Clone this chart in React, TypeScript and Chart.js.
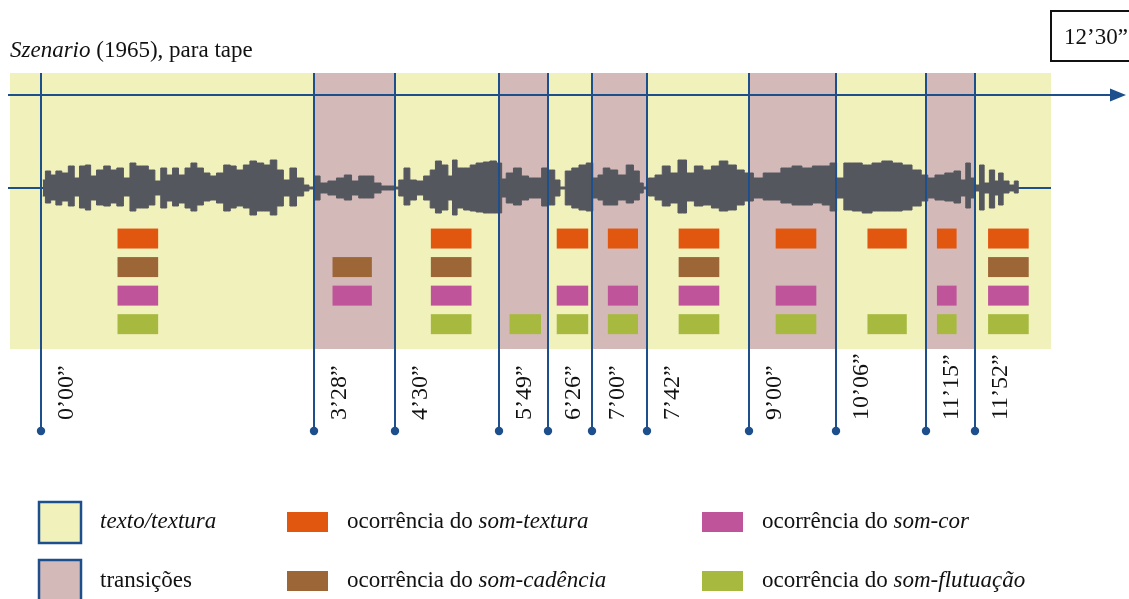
import React, { useEffect, useRef } from 'react';
import { Chart, registerables } from 'chart.js';

Chart.register(...registerables);

// ---------- data ----------
const markerSeconds = [0, 208, 270, 349, 386, 420, 462, 540, 606, 675, 712];
const markerLabels = ['0’00”', '3’28”', '4’30”', '5’49”', '6’26”', '7’00”', '7’42”', '9’00”', '10’06”', '11’15”', '11’52”'];
const totalLabel = '12’30”';
const transitions = [[208, 270], [349, 386], [420, 462], [540, 606], [675, 712]];

const waveTime = [1, 5, 9, 13, 18, 23, 27, 31, 36, 39, 45, 50, 55, 60, 65, 70, 74, 79, 84, 89, 93, 98, 102, 107, 112, 116, 121, 126, 131, 136, 142, 146, 151, 157, 161, 167, 172, 177, 182, 187, 192, 197, 203, 205, 210, 215, 222, 228, 234, 239, 245, 251, 256, 262, 267, 271, 274, 279, 283, 289, 294, 299, 302, 308, 312, 315, 319, 325, 329, 334, 340, 344, 350, 352, 357, 363, 369, 374, 379, 384, 389, 394, 397, 402, 407, 413, 418, 423, 426, 431, 436, 443, 449, 454, 458, 460, 466, 470, 477, 482, 489, 495, 501, 508, 514, 520, 527, 533, 539, 547, 554, 559, 569, 576, 584, 592, 599, 604, 609, 615, 622, 630, 637, 645, 653, 660, 668, 674, 678, 685, 693, 699, 703, 707, 710, 714, 717, 721, 725, 729, 731, 736, 740, 744, 746];
const waveUpper = [8, 17, 13, 17, 15, 22, 10, 22, 23, 12, 18, 22, 18, 20, 10, 25, 22, 22, 18, 7, 20, 13, 20, 13, 20, 25, 20, 15, 12, 15, 23, 22, 18, 23, 27, 25, 23, 28, 18, 8, 20, 10, 3, 1, 12, 5, 7, 10, 13, 7, 12, 12, 5, 2, 2, 1, 8, 20, 8, 7, 12, 18, 27, 23, 12, 28, 20, 20, 23, 25, 26, 27, 25, 9, 15, 20, 12, 10, 10, 20, 18, 8, 1, 17, 20, 23, 25, 10, 13, 20, 18, 13, 23, 17, 5, 1, 10, 13, 22, 15, 28, 15, 22, 18, 22, 27, 23, 18, 15, 10, 15, 15, 20, 22, 20, 22, 22, 25, 10, 25, 25, 23, 25, 27, 25, 23, 18, 13, 10, 13, 15, 17, 8, 25, 10, 3, 23, 5, 18, 7, 15, 7, 3, 7, 0];
const waveLower = [8, 15, 12, 17, 13, 18, 8, 20, 22, 12, 17, 18, 15, 18, 8, 23, 20, 20, 17, 7, 20, 13, 18, 15, 20, 23, 17, 13, 12, 15, 23, 20, 18, 20, 27, 23, 23, 27, 18, 8, 18, 8, 3, 1, 12, 5, 7, 10, 12, 7, 10, 10, 5, 2, 2, 1, 8, 17, 12, 7, 12, 20, 25, 22, 12, 27, 20, 22, 23, 24, 25, 25, 25, 9, 15, 17, 12, 10, 10, 18, 17, 8, 1, 17, 20, 22, 23, 10, 12, 17, 17, 12, 15, 12, 5, 1, 8, 12, 18, 15, 25, 13, 18, 17, 20, 23, 22, 17, 13, 10, 12, 12, 15, 17, 17, 15, 17, 23, 10, 22, 23, 25, 23, 23, 23, 22, 18, 13, 10, 12, 13, 15, 8, 20, 10, 3, 22, 5, 20, 7, 17, 5, 3, 5, 0];

const somTextura = [[58, 89], [297, 328], [393, 417], [432, 455], [486, 517], [560, 591], [630, 660], [683, 698], [722, 753]];
const somCadencia = [[58, 89], [222, 252], [297, 328], [486, 517], [722, 753]];
const somCor = [[58, 89], [222, 252], [297, 328], [393, 417], [432, 455], [486, 517], [560, 591], [683, 698], [722, 753]];
const somFlutuacao = [[58, 89], [297, 328], [357, 381], [393, 417], [432, 455], [486, 517], [560, 591], [630, 660], [683, 698], [722, 753]];

// ---------- styles ----------
const BLUE = '#1c4f8b';
const YELLOW = '#f1f1bc';
const PINK = '#d4b9b9';
const WAVE = '#55575f';
const FONT = '"Liberation Serif", "Times New Roman", serif';
const TXT = 23;
const rows = [
  { name: 'som-textura', blocks: somTextura, color: '#e2570f' },
  { name: 'som-cadência', blocks: somCadencia, color: '#9d6636' },
  { name: 'som-cor', blocks: somCor, color: '#c0549a' },
  { name: 'som-flutuação', blocks: somFlutuacao, color: '#a7ba3f' },
];

function drawMixed(ctx: CanvasRenderingContext2D, parts: [string, boolean][], x: number, y: number, size: number) {
  let cx = x;
  for (const [txt, italic] of parts) {
    ctx.font = `${italic ? 'italic ' : ''}${size}px ${FONT}`;
    ctx.fillText(txt, cx, y);
    cx += ctx.measureText(txt).width;
  }
}

const diagramPlugin = {
  id: 'diagram',
  beforeDatasetsDraw(chart: any) {
    const { ctx, chartArea: a, scales } = chart;
    const xs = scales.x;
    ctx.save();
    ctx.fillStyle = YELLOW;
    ctx.fillRect(a.left, a.top, a.right - a.left, a.bottom - a.top);
    ctx.fillStyle = PINK;
    for (const [s, e] of transitions) {
      const x0 = xs.getPixelForValue(s);
      const x1 = xs.getPixelForValue(e);
      ctx.fillRect(x0, a.top, x1 - x0, a.bottom - a.top);
    }
    ctx.strokeStyle = BLUE;
    ctx.lineWidth = 2;
    const yc = scales.y.getPixelForValue(0);
    ctx.beginPath();
    ctx.moveTo(8, yc);
    ctx.lineTo(a.right, yc);
    ctx.stroke();
    ctx.restore();
  },
  afterDatasetsDraw(chart: any) {
    const { ctx, chartArea: a, scales } = chart;
    const xs = scales.x;
    const rs = scales.yRows;
    ctx.save();
    // arrow (time axis)
    const ay = 95;
    ctx.strokeStyle = BLUE;
    ctx.fillStyle = BLUE;
    ctx.lineWidth = 2;
    ctx.beginPath();
    ctx.moveTo(8, ay);
    ctx.lineTo(1114, ay);
    ctx.stroke();
    ctx.beginPath();
    ctx.moveTo(1126, ay);
    ctx.lineTo(1110, ay - 6.5);
    ctx.lineTo(1110, ay + 6.5);
    ctx.closePath();
    ctx.fill();

    // blocks
    rows.forEach((r, i) => {
      const y0 = rs.getPixelForValue(i - 0.35);
      const y1 = rs.getPixelForValue(i + 0.35);
      ctx.fillStyle = r.color;
      for (const [s, e] of r.blocks) {
        const x0 = xs.getPixelForValue(s);
        const x1 = xs.getPixelForValue(e);
        ctx.fillRect(x0, y0, x1 - x0, y1 - y0);
      }
    });

    // markers
    ctx.strokeStyle = BLUE;
    ctx.fillStyle = BLUE;
    ctx.lineWidth = 2;
    markerSeconds.forEach((t, i) => {
      const px = Math.round(xs.getPixelForValue(t));
      ctx.beginPath();
      ctx.moveTo(px, a.top);
      ctx.lineTo(px, 431);
      ctx.stroke();
      ctx.beginPath();
      ctx.arc(px, 431, 4.2, 0, Math.PI * 2);
      ctx.fill();
      ctx.save();
      ctx.fillStyle = '#111';
      ctx.font = `24px ${FONT}`;
      ctx.translate(px + 32, 420);
      ctx.rotate(-Math.PI / 2);
      ctx.textAlign = 'left';
      ctx.textBaseline = 'alphabetic';
      ctx.fillText(markerLabels[i], 0, 0);
      ctx.restore();
    });

    // title
    ctx.fillStyle = '#111';
    ctx.textBaseline = 'alphabetic';
    ctx.textAlign = 'left';
    drawMixed(ctx, [['Szenario', true], [' (1965), para tape', false]], 10, 57, TXT);

    // total duration box
    ctx.strokeStyle = '#111';
    ctx.lineWidth = 2;
    ctx.strokeRect(1051, 11, 90, 50);
    ctx.font = `${TXT}px ${FONT}`;
    ctx.fillText(totalLabel, 1064, 44);

    // legend
    ctx.lineWidth = 2.5;
    ctx.strokeStyle = BLUE;
    ctx.fillStyle = YELLOW;
    ctx.fillRect(39, 502, 42, 41);
    ctx.strokeRect(39, 502, 42, 41);
    ctx.fillStyle = PINK;
    ctx.fillRect(39, 560, 42, 45);
    ctx.strokeRect(39, 560, 42, 45);
    ctx.fillStyle = '#111';
    drawMixed(ctx, [['texto/textura', true]], 100, 528, TXT);
    drawMixed(ctx, [['transições', false]], 100, 587, TXT);

    const legendPos = [[287, 347, 512, 528], [287, 347, 571, 587], [702, 762, 512, 528], [702, 762, 571, 587]];
    rows.forEach((r, i) => {
      const [sx, tx, sy, ty] = legendPos[i];
      ctx.fillStyle = r.color;
      ctx.fillRect(sx, sy, 41, 20);
      ctx.fillStyle = '#111';
      drawMixed(ctx, [['ocorrência do ', false], [r.name, true]], tx, ty, TXT);
    });
    ctx.restore();
  },
};

export default function App() {
  const ref = useRef<HTMLCanvasElement | null>(null);
  useEffect(() => {
    document.body.style.margin = '0';
    const canvas = ref.current!;
    const upper = waveTime.map((t, i) => ({ x: t, y: waveUpper[i] }));
    const lower = waveTime.map((t, i) => ({ x: t, y: -waveLower[i] }));
    const chart = new Chart(canvas, {
      type: 'line',
      data: {
        datasets: [
          { data: upper, borderColor: WAVE, backgroundColor: WAVE, borderWidth: 1, pointRadius: 0, fill: '+1', stepped: 'middle' },
          { data: lower, borderColor: WAVE, backgroundColor: WAVE, borderWidth: 1, pointRadius: 0, fill: false, stepped: 'middle' },
        ],
      },
      options: {
        responsive: false,
        animation: false,
        events: [],
        layout: { padding: { left: 10, right: 78, top: 73, bottom: 250 } },
        plugins: { legend: { display: false }, tooltip: { enabled: false } },
        scales: {
          x: { type: 'linear', min: -24, max: 770, display: false },
          y: { type: 'linear', min: -161, max: 115, display: false },
          yRows: { type: 'linear', axis: 'y', position: 'left', min: -5.8, max: 3.87, reverse: true, display: false },
        },
      },
      plugins: [diagramPlugin],
    } as any);
    let alive = true;
    Promise.all([
      document.fonts.load(`22px ${FONT}`),
      document.fonts.load(`italic 22px ${FONT}`),
    ]).then(() => { if (alive) chart.update(); }).catch(() => {});
    return () => { alive = false; chart.destroy(); };
  }, []);
  return (
    <div style={{ position: 'fixed', left: 0, top: 0, width: 1129, height: 599, background: '#fff' }}>
      <canvas ref={ref} width={1129} height={599} style={{ display: 'block', width: 1129, height: 599 }} />
    </div>
  );
}
